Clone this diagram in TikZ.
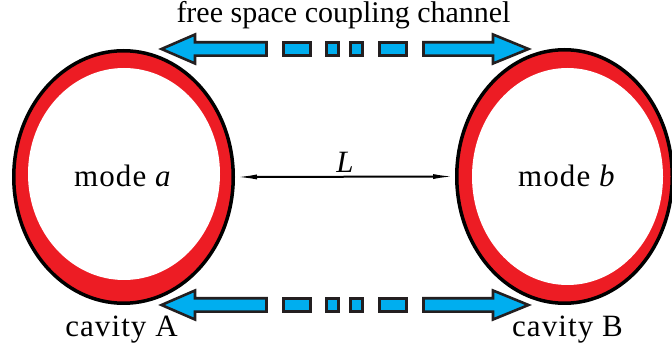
\documentclass[tikz,border=0pt]{standalone}
\usepackage{fontspec}
\setmainfont{Liberation Serif}
\usetikzlibrary{shapes.geometric,arrows.meta}
\definecolor{ringred}{HTML}{ED1C24}
\definecolor{chancyan}{HTML}{00AEEF}
\definecolor{inkdark}{HTML}{231F20}
\tikzset{
  ringouter/.style={ellipse,inner sep=0pt,draw=black,line width=3.5pt,fill=ringred},
  ringinner/.style={ellipse,inner sep=0pt,fill=white},
  lbl/.style={font=\fontsize{31}{36}\selectfont\addfontfeature{LetterSpace=3.5},inner sep=0pt,anchor=base},
  titlelbl/.style={font=\fontsize{30}{36}\selectfont,inner sep=0pt,anchor=base},
  chanpart/.style={draw=inkdark,line width=2.6pt,fill=chancyan,line join=miter},
  lenline/.style={line width=2pt,black,{Latex[length=22pt,width=5pt]}-{Latex[length=22pt,width=5pt]}}
}
% one dashed two-headed coupling arrow, centred on height #1
\newcommand\chanarrow[1]{%
  \begin{scope}[shift={(0,#1)}]
    \draw[chanpart] (161.5,0) -- (195,-14.5) -- (195,-6.7) -- (266.5,-6.7)
      -- (266.5,6.7) -- (195,6.7) -- (195,14.5) -- cycle;
    \draw[chanpart] (283.3,-6.7) rectangle (310.7,6.7);
    \draw[chanpart] (326.3,-6.7) rectangle (338.7,6.7);
    \draw[chanpart] (350.3,-6.7) rectangle (362.7,6.7);
    \draw[chanpart] (379.3,-6.7) rectangle (406.7,6.7);
    \draw[chanpart] (528.5,0) -- (493,-14.5) -- (493,-6.7) -- (423.5,-6.7)
      -- (423.5,6.7) -- (493,6.7) -- (493,14.5) -- cycle;
  \end{scope}}
\begin{document}
\begin{tikzpicture}[x=1pt,y=-1pt]
  \useasboundingbox (0,0) rectangle (672,352);
  % cavity A
  \node[ringouter,minimum width=219.5pt,minimum height=252.5pt] (cavA) at (123.5,177) {};
  \node[ringinner,minimum width=192pt,minimum height=212pt] (holeA) at (124,174) {};
  % cavity B
  \node[ringouter,minimum width=215.5pt,minimum height=253.5pt] (cavB) at (564.5,176.5) {};
  \node[ringinner,minimum width=191pt,minimum height=217pt] (holeB) at (567.5,176.5) {};
  % mode labels
  \node[lbl] (modeA) at (123,187) {mode \textit{a}};
  \node[lbl] (modeB) at (567,187) {mode \textit{b}};
  % separation L
  \draw[lenline] (cavA.east) -- (cavB.west) node[midway,above=3pt,font=\fontsize{31}{36}\selectfont\itshape,inner sep=0pt] (lenL) {L};
  % coupling channels
  \chanarrow{49}
  \chanarrow{305}
  % captions
  \node[titlelbl] (chanlbl) at (343.5,23) {free space coupling channel};
  \node[lbl] (capA) at (121.5,337) {cavity A};
  \node[lbl] (capB) at (567.5,337) {cavity B};
\end{tikzpicture}
\end{document}
